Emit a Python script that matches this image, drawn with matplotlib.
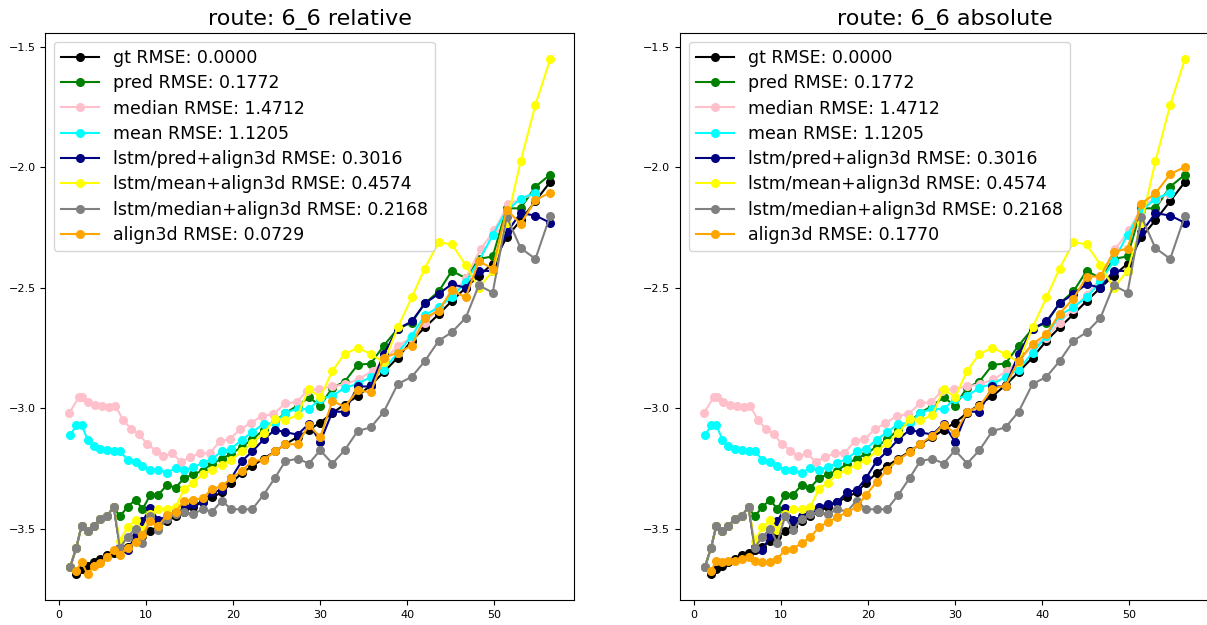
import matplotlib
matplotlib.use("Agg")
import matplotlib.pyplot as plt
from matplotlib.ticker import MultipleLocator

# --- data ---
X = [1.3, 2.0, 2.6, 3.3, 4.0, 4.7, 5.5, 6.3, 7.0, 7.9, 8.8, 9.6, 10.5, 11.4, 12.4,
     13.4, 14.4, 15.4, 16.5, 17.6, 18.7, 19.8, 21.0, 22.2, 23.5, 24.8, 26.0, 27.4,
     28.7, 30.0, 31.4, 32.8, 34.3, 35.8, 37.3, 38.9, 40.5, 42.0, 43.6, 45.1, 46.7,
     48.2, 49.8, 51.4, 53.0, 54.7, 56.4]

X_MEDIAN = [1.2, 2.3, 2.65, 3.4, 4.2, 5.0, 5.75, 6.5, 7.35, 8.3, 9.2, 10.1, 11.1, 12.0,
            13.0, 14.0, 15.1, 16.2, 17.3, 18.5, 19.6, 20.8, 22.0, 23.3, 24.6, 26.0,
            27.3, 28.5, 29.9, 31.4, 32.9, 34.4, 36.0, 37.4, 38.9, 40.4, 42.0, 43.5,
            45.1, 46.7, 48.4, 50.0, 51.6, 53.1, 54.6]

# gt and align3d start at the second frame
GT = [-3.69, -3.67, -3.655, -3.64, -3.625, -3.61, -3.60, -3.59, -3.575, -3.55,
      -3.53, -3.51, -3.49, -3.47, -3.45, -3.43, -3.41, -3.39, -3.37, -3.35,
      -3.31, -3.27, -3.24, -3.21, -3.18, -3.15, -3.12, -3.09, -3.06, -3.02,
      -2.985, -2.95, -2.905, -2.85, -2.79, -2.72, -2.665, -2.61, -2.555, -2.50,
      -2.45, -2.40, -2.29, -2.22, -2.14, -2.06]

PRED = [-3.66, -3.58, -3.49, -3.51, -3.49, -3.46, -3.45, -3.41,
        -3.45, -3.41, -3.38, -3.42, -3.36, -3.36, -3.32, -3.33, -3.29, -3.275,
        -3.26, -3.23, -3.21, -3.19, -3.16, -3.13, -3.09, -3.055, -3.02, -2.99,
        -2.955, -2.99, -2.915, -2.89, -2.82, -2.815, -2.74, -2.67, -2.645, -2.565,
        -2.515, -2.43, -2.46, -2.38, -2.37, -2.17, -2.17, -2.08, -2.03]

MEDIAN = [-3.02, -2.955, -2.955, -2.975, -2.985, -2.99, -2.995, -2.99, -3.048, -3.087,
          -3.109, -3.147, -3.176, -3.200, -3.187, -3.222, -3.204, -3.187, -3.188, -3.137,
          -3.13, -3.088, -3.063, -3.032, -3.026, -2.98, -2.975, -2.928, -2.92, -2.91,
          -2.90, -2.88, -2.845, -2.80, -2.74, -2.71, -2.645, -2.59, -2.53, -2.46,
          -2.34, -2.26, -2.153, -2.13, -2.11]

MEAN = [-3.113, -3.072, -3.069, -3.131, -3.159, -3.169, -3.172, -3.18, -3.18, -3.214,
        -3.224, -3.242, -3.256, -3.256, -3.268, -3.249, -3.259, -3.245, -3.228, -3.21,
        -3.18, -3.169, -3.131, -3.10, -3.065, -3.062, -3.02, -3.002, -3.005, -2.96,
        -2.95, -2.915, -2.90, -2.87, -2.84, -2.77, -2.70, -2.615, -2.58, -2.54,
        -2.475, -2.39, -2.28, -2.18, -2.13, -2.105]

LSTM_PRED = [-3.66, -3.58, -3.49, -3.51, -3.49, -3.46, -3.45, -3.41,
             -3.575, -3.59, -3.53, -3.47, -3.415, -3.465, -3.45, -3.43, -3.41, -3.40,
             -3.39, -3.35, -3.34, -3.29, -3.22, -3.18, -3.13, -3.09, -3.10, -3.11,
             -3.065, -3.14, -3.015, -3.015, -2.91, -2.91, -2.775, -2.67, -2.64, -2.565,
             -2.525, -2.485, -2.50, -2.43, -2.43, -2.27, -2.19, -2.20, -2.23]

LSTM_MEAN = [-3.66, -3.58, -3.49, -3.51, -3.49, -3.46, -3.45, -3.41,
             -3.55, -3.495, -3.465, -3.505, -3.44, -3.42, -3.42, -3.41, -3.335, -3.31,
             -3.275, -3.255, -3.235, -3.215, -3.18, -3.145, -3.105, -3.045, -3.05, -3.03,
             -2.92, -2.955, -2.845, -2.775, -2.75, -2.775, -2.81, -2.665, -2.54, -2.42,
             -2.31, -2.32, -2.405, -2.50, -2.43, -2.23, -1.975, -1.74, -1.55]

LSTM_MEDIAN = [-3.66, -3.58, -3.49, -3.51, -3.49, -3.46, -3.45, -3.41, -3.58, -3.535,
               -3.50, -3.56, -3.45, -3.505, -3.46, -3.44, -3.43, -3.44, -3.42, -3.43,
               -3.385, -3.42, -3.42, -3.42, -3.36, -3.29, -3.22, -3.21, -3.23, -3.175,
               -3.23, -3.175, -3.095, -3.08, -3.015, -2.90, -2.87, -2.805, -2.72, -2.685,
               -2.625, -2.49, -2.52, -2.205, -2.335, -2.38, -2.20]

ALIGN_REL = [-3.675, -3.64, -3.69, -3.655, -3.645, -3.62, -3.59, -3.61, -3.58, -3.555,
             -3.525, -3.47, -3.49, -3.445, -3.43, -3.385, -3.38, -3.375, -3.335, -3.325,
             -3.29, -3.26, -3.22, -3.215, -3.18, -3.15, -3.15, -3.07, -3.12, -2.97,
             -2.995, -2.925, -2.935, -2.79, -2.77, -2.74, -2.625, -2.595, -2.51, -2.54,
             -2.39, -2.42, -2.175, -2.235, -2.135, -2.105]

ALIGN_ABS = [-3.677, -3.633, -3.64, -3.636, -3.633, -3.626, -3.62, -3.633, -3.64, -3.64,
             -3.626, -3.589, -3.584, -3.561, -3.536, -3.494, -3.473, -3.453, -3.432, -3.411,
             -3.36, -3.307, -3.256, -3.214, -3.183, -3.148, -3.115, -3.068, -3.104, -3.016,
             -2.992, -2.919, -2.906, -2.804, -2.733, -2.693, -2.607, -2.545, -2.455, -2.452,
             -2.351, -2.337, -2.15, -2.108, -2.028, -1.998]

RMSE = {"gt": "0.0000", "pred": "0.1772", "median": "1.4712", "mean": "1.1205",
        "lstm/pred+align3d": "0.3016", "lstm/mean+align3d": "0.4574",
        "lstm/median+align3d": "0.2168"}
ALIGN_RMSE = {"relative": "0.0729", "absolute": "0.1770"}
# ---------------------

MS = 5.5


def draw(ax, mode, align):
    ax.plot(X[1:], GT, "o-", ms=MS, color="black", label=f"gt RMSE: {RMSE['gt']}")
    ax.plot(X, PRED, "o-", ms=MS, color="green", label=f"pred RMSE: {RMSE['pred']}")
    ax.plot(X_MEDIAN, MEDIAN, "o-", ms=MS, color="pink",
            label=f"median RMSE: {RMSE['median']}")
    ax.plot(X[:len(MEAN)], MEAN, "o-", ms=MS, color="cyan",
            label=f"mean RMSE: {RMSE['mean']}")
    ax.plot(X, LSTM_PRED, "o-", ms=MS, color="navy",
            label=f"lstm/pred+align3d RMSE: {RMSE['lstm/pred+align3d']}")
    ax.plot(X, LSTM_MEAN, "o-", ms=MS, color="yellow",
            label=f"lstm/mean+align3d RMSE: {RMSE['lstm/mean+align3d']}")
    ax.plot(X, LSTM_MEDIAN, "o-", ms=MS, color="gray",
            label=f"lstm/median+align3d RMSE: {RMSE['lstm/median+align3d']}")
    ax.plot(X[1:], align, "o-", ms=MS, color="orange",
            label=f"align3d RMSE: {ALIGN_RMSE[mode]}")
    ax.set_title(f"route: 6_6 {mode}", fontsize=16)
    ax.xaxis.set_major_locator(MultipleLocator(10))
    ax.yaxis.set_major_locator(MultipleLocator(0.5))
    ax.tick_params(labelsize=8)
    ax.legend(loc="upper left", fontsize=12.5, labelspacing=0.42, handlelength=2.2)


fig = plt.figure(figsize=(12.07, 6.25), dpi=100)
ax_rel = fig.add_axes([0.0375, 0.04, 0.4383, 0.9067])
ax_abs = fig.add_axes([0.5634, 0.04, 0.4383, 0.9067])
draw(ax_rel, "relative", ALIGN_REL)
draw(ax_abs, "absolute", ALIGN_ABS)

fig.savefig("out.png", dpi=100)
